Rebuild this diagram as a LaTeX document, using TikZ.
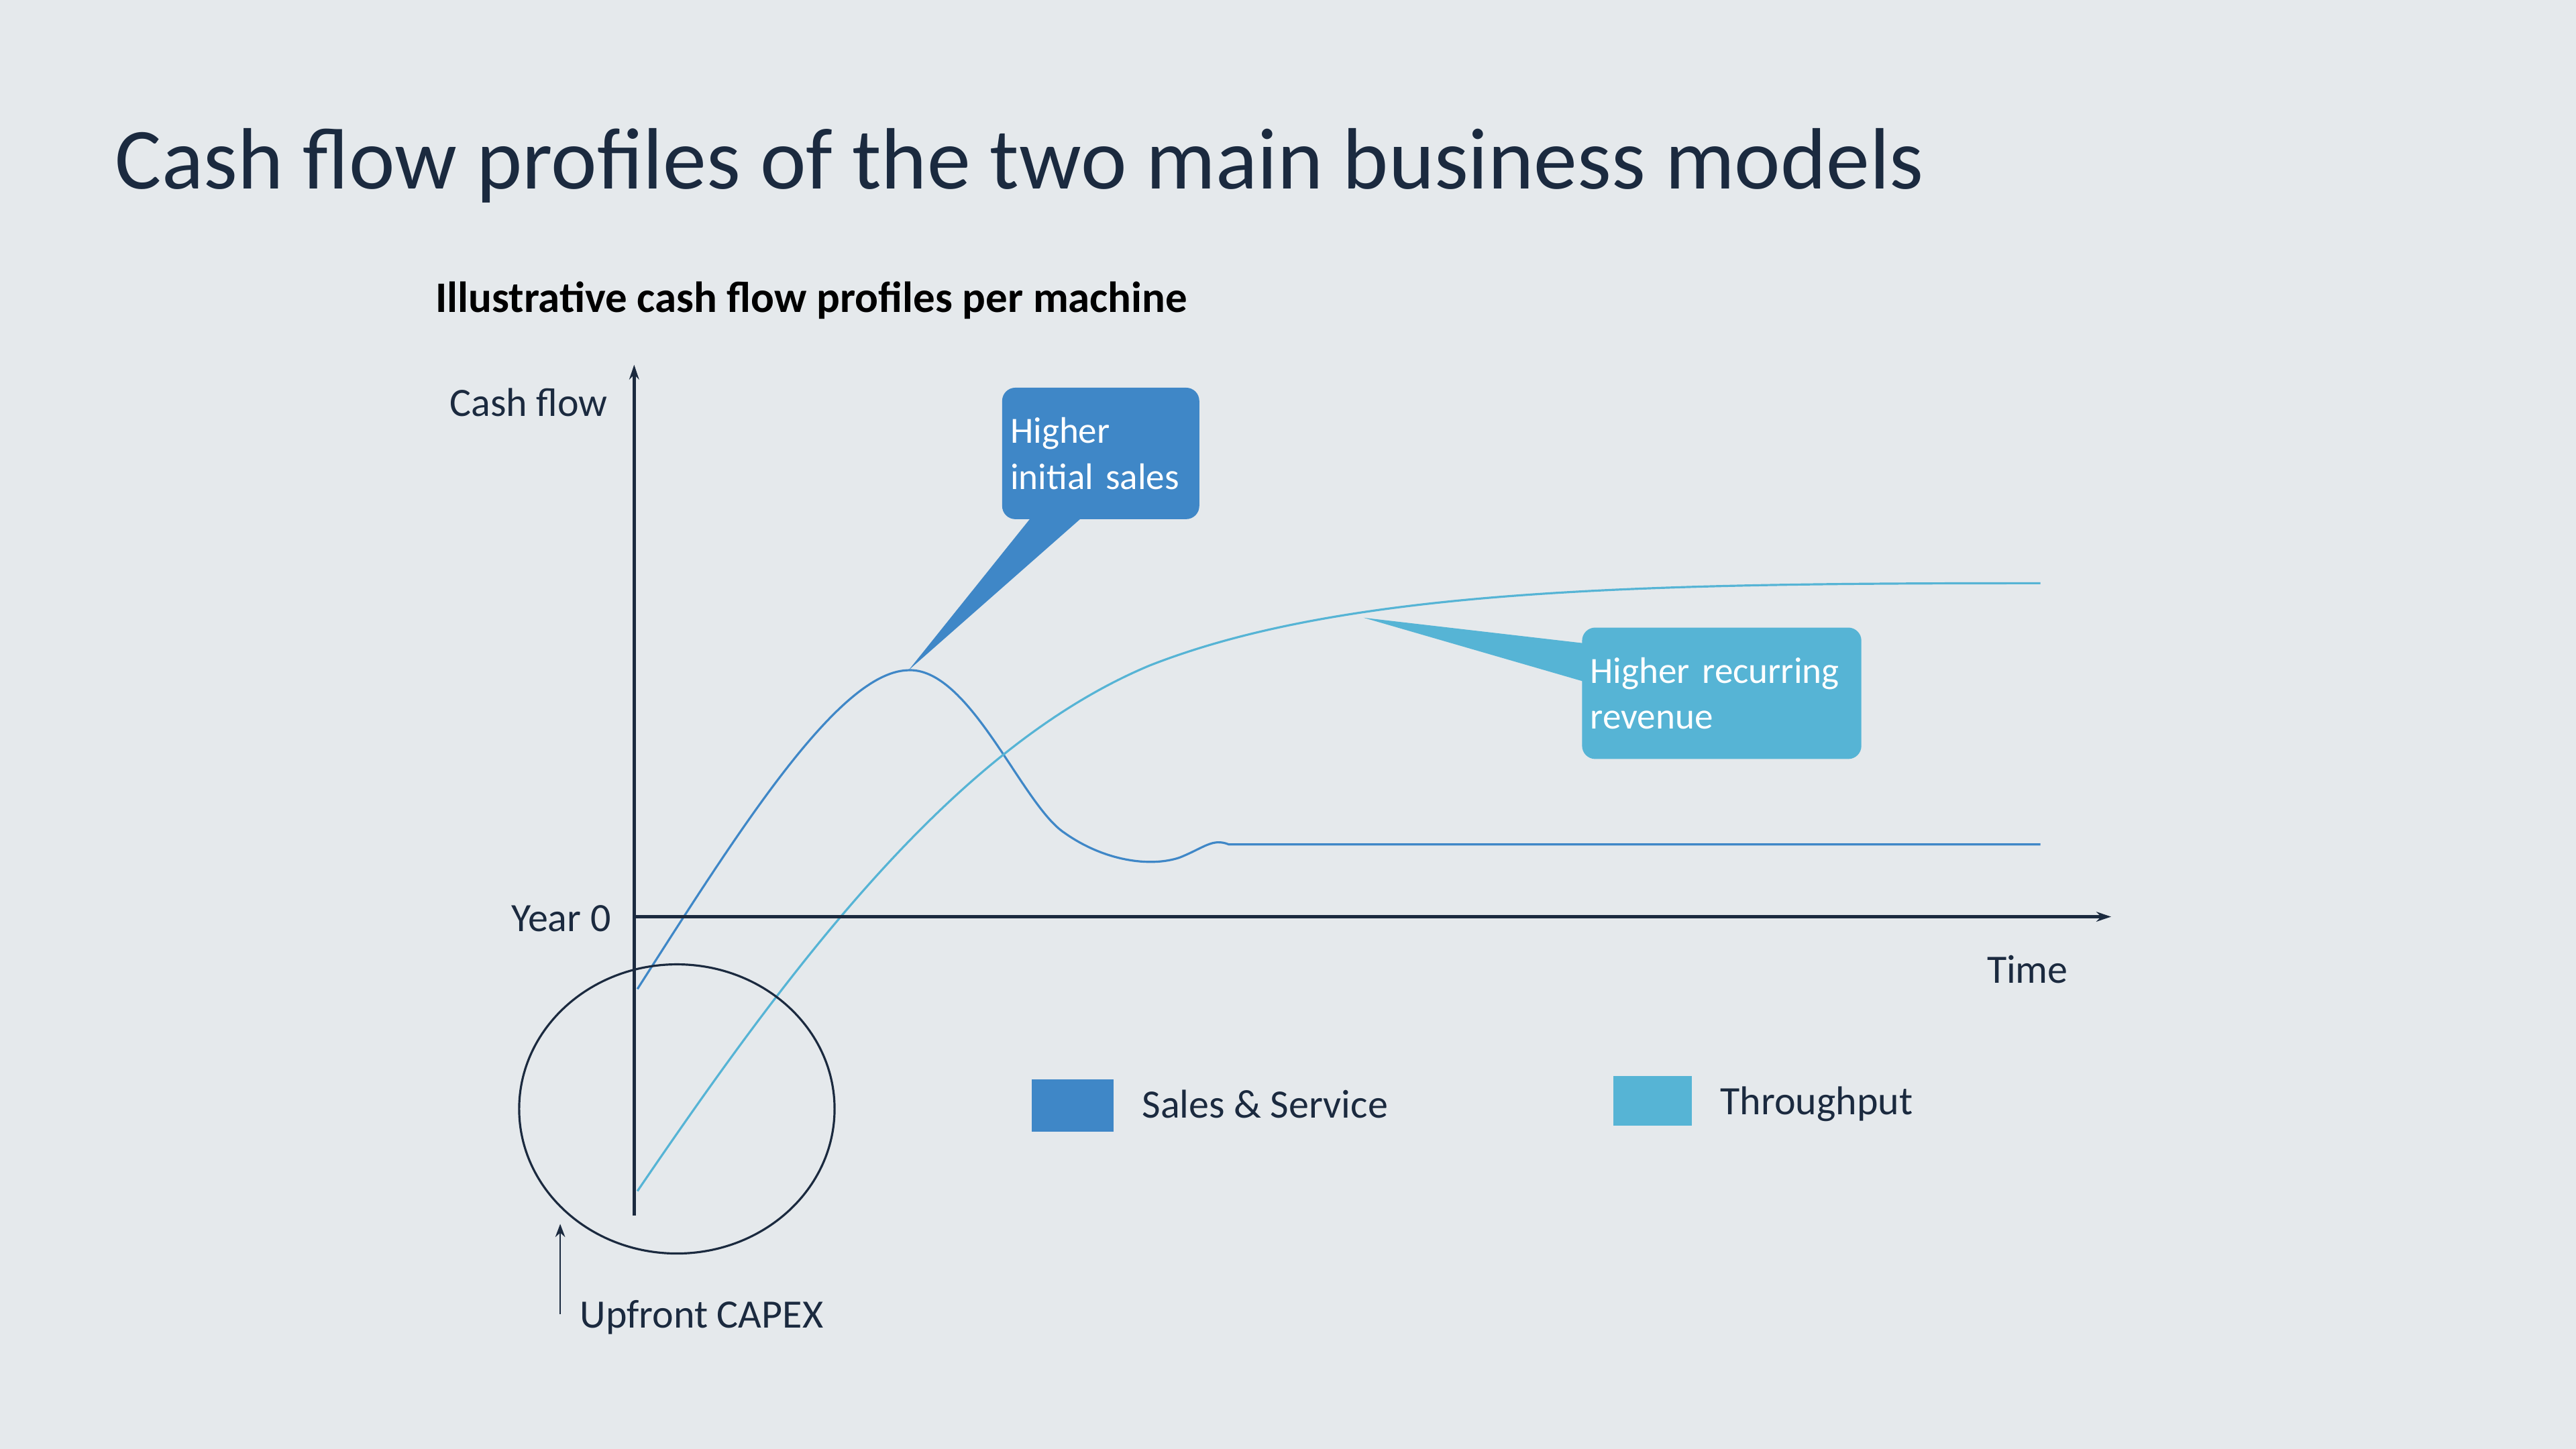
\documentclass[tikz,border=0pt]{standalone}
\usepackage{fontspec}
\setmainfont{Carlito}
\usetikzlibrary{arrows.meta}
\definecolor{bg}{HTML}{E5E9EC}
\definecolor{ink}{HTML}{1B2A3F}
\definecolor{dark}{HTML}{3F87C7}
\definecolor{light}{HTML}{56B4D5}
\begin{document}
\begin{tikzpicture}[x=1pt,y=-1pt,
  lbl/.style={text=ink,font=\fontsize{24.5}{28}\selectfont,inner sep=0pt},
  callout/.style={rounded corners=8pt,text=white,align=left,font=\fontsize{22.5}{28}\selectfont,inner sep=0pt},
  axis/.style={draw=ink,line width=1.8pt,-{Stealth[length=9pt,width=6pt]}},
  curve/.style={line width=1.3pt}]
\fill[bg] (0,0) rectangle (1568,882);
\useasboundingbox (0,0) rectangle (1568,882);
\node[anchor=base west,text=ink,font=\fontsize{53}{60}\selectfont,inner sep=0pt] (title) at (70,115) {Cash flow profiles of the two main business models};
\node[anchor=base west,text=black,font=\fontsize{26.5}{30}\selectfont\bfseries,inner sep=0pt] (sub) at (265,190) {Illustrative cash flow profiles per machine};
% callout boxes
\fill[dark] (630,312) -- (553,408) -- (662,312) -- cycle;
\fill[light] (968,392) -- (830,376) -- (968,416) -- cycle;
\node[callout,fill=dark,minimum width=120pt,minimum height=80pt,text width=110pt] (c1) at (670,276) {Higher\\initial sales};
\node[callout,fill=light,minimum width=170pt,minimum height=80pt,text width=160pt] (c2) at (1048,422) {Higher recurring\\revenue};
% curves
\coordinate (d0) at (388,602); \coordinate (dp) at (552,408); \coordinate (d1) at (748,514); \coordinate (d2) at (1242,514);
\draw[curve,draw=dark] (d0) .. controls (450,505) and (510,410) .. (dp) .. controls (590,405) and (622,490) .. (648,507) .. controls (672,524) and (700,528) .. (718,522) .. controls (733,516) and (738,510) .. (d1) -- (d2);
\coordinate (l0) at (388,725); \coordinate (lm) at (700,405); \coordinate (l1) at (1242,355);
\draw[curve,draw=light] (l0) .. controls (480,590) and (580,455) .. (lm) .. controls (820,358) and (1000,355) .. (l1);
% axes
\coordinate (o) at (386,558); \coordinate (ybot) at (386,740); \coordinate (ytop) at (386,222); \coordinate (xend) at (1285,558);
\draw[axis] (ybot) -- (ytop);
\draw[axis] (o) -- (xend);
\node[lbl,anchor=east] (cf) at (370,245) {Cash flow};
\node[lbl,anchor=east] (y0) at (372,559) {Year 0};
\node[lbl,anchor=east] (time) at (1259,590) {Time};
\draw[ink,line width=1.3pt] (412,675) ellipse [x radius=96, y radius=88];
\coordinate (a1) at (341,800); \coordinate (a2) at (341,745);
\draw[ink,line width=0.8pt,-{Stealth[length=8pt,width=6pt]}] (a1) -- (a2);
\node[lbl,anchor=west] (capex) at (353,802) {Upfront CAPEX};
% legend
\fill[dark] (628,657) rectangle (678,689);
\node[lbl,anchor=west] (leg1) at (695,672) {Sales \& Service};
\fill[light] (982,655) rectangle (1030,685);
\node[lbl,anchor=west] (leg2) at (1047,672) {Throughput};
\end{tikzpicture}
\end{document}
